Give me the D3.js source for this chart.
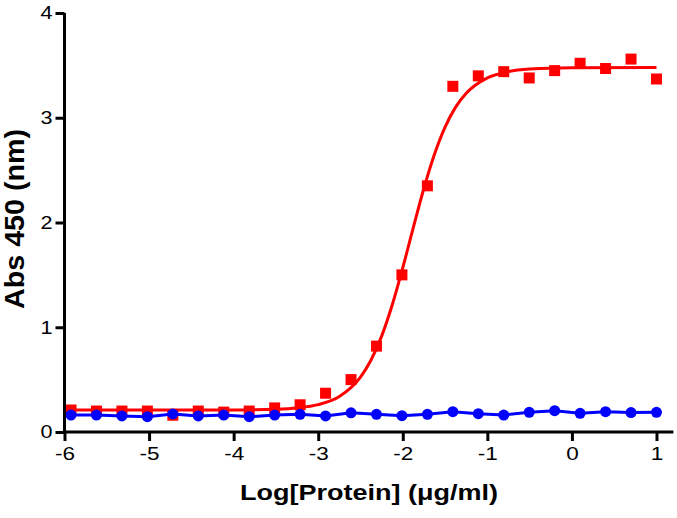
<!DOCTYPE html>
<html>
<head>
<meta charset="utf-8">
<script src="https://cdn.jsdelivr.net/npm/d3@7"></script>
<style>
html,body{margin:0;padding:0;background:#fff;}
svg{display:block;}
</style>
</head>
<body>
<svg id="chart" width="677" height="518"></svg>
<script>
// Data (log concentration, 2-fold dilutions)
const logConc = [-5.923,-5.622,-5.321,-5.020,-4.719,-4.418,-4.117,-3.816,-3.515,-3.214,-2.913,-2.612,-2.311,-2.010,-1.709,-1.408,-1.107,-0.806,-0.505,-0.204,0.097,0.398,0.699,1.000];
const redValues = [0.21,0.20,0.20,0.20,0.16,0.20,0.19,0.20,0.23,0.26,0.37,0.50,0.82,1.50,2.35,3.30,3.40,3.44,3.38,3.45,3.52,3.47,3.56,3.37];
const blueValues = [0.162,0.162,0.153,0.146,0.172,0.153,0.162,0.146,0.162,0.169,0.153,0.183,0.169,0.156,0.169,0.194,0.175,0.162,0.188,0.203,0.178,0.194,0.185,0.188];
// Fitted red curve
const fitX = [-5.97,-4.0,-3.5,-3.25,-3.0,-2.75,-2.5,-2.375,-2.25,-2.125,-2.0,-1.875,-1.75,-1.625,-1.5,-1.375,-1.25,-1.0,-0.75,-0.5,0.0,1.0];
const fitY = [0.21,0.211,0.218,0.230,0.261,0.339,0.524,0.687,0.915,1.212,1.568,1.953,2.327,2.652,2.911,3.101,3.233,3.380,3.441,3.465,3.478,3.48];
const xTicks = [-6,-5,-4,-3,-2,-1,0,1];
const yTicks = [0,1,2,3,4];
const xTitle = "Log[Protein] (\u03bcg/ml)";
const yTitle = "Abs 450 (nm)";

const svg = d3.select("#chart");
const x = d3.scaleLinear().domain([-6, 1.2]).range([64.5, 673.4]);
const y = d3.scaleLinear().domain([0, 4]).range([432, 13]);
const font = "Arial, 'Liberation Sans', Helvetica, sans-serif";
const fmt = d => String(d); // plain hyphen-minus as in the reference

// Red fit curve
const fitData = fitX.map((d,i)=>[d, fitY[i]]);
svg.append("path")
  .datum(fitData)
  .attr("fill","none")
  .attr("stroke","#ff0000")
  .attr("stroke-width",3)
  .attr("d", d3.line().x(d=>x(d[0])).y(d=>y(d[1])).curve(d3.curveMonotoneX));

// Red squares
const sq = 11;
svg.append("g").selectAll("rect")
  .data(logConc.map((d,i)=>[d, redValues[i]]))
  .join("rect")
  .attr("x", d=>x(d[0]) - sq/2)
  .attr("y", d=>y(d[1]) - sq/2)
  .attr("width", sq).attr("height", sq)
  .attr("fill","#ff0000");

// Blue line + dots
const blueData = logConc.map((d,i)=>[d, blueValues[i]]);
svg.append("path")
  .datum(blueData)
  .attr("fill","none")
  .attr("stroke","#0000ff")
  .attr("stroke-width",3)
  .attr("d", d3.line().x(d=>x(d[0])).y(d=>y(d[1])));
svg.append("g").selectAll("circle")
  .data(blueData)
  .join("circle")
  .attr("cx", d=>x(d[0]))
  .attr("cy", d=>y(d[1]))
  .attr("r", 5.5)
  .attr("fill","#0000ff");

// Axes
const xAxis = svg.append("g")
  .attr("transform", `translate(0,${y(0)})`)
  .call(d3.axisBottom(x).tickValues(xTicks).tickFormat(fmt).tickSizeInner(9).tickSizeOuter(0).tickPadding(6));
const yAxis = svg.append("g")
  .attr("transform", `translate(${x(-6)},0)`)
  .call(d3.axisLeft(y).tickValues(yTicks).tickFormat(fmt).tickSizeInner(9).tickSizeOuter(0).tickPadding(3));

[xAxis, yAxis].forEach(g=>{
  g.select(".domain").attr("stroke","#000").attr("stroke-width",3);
  g.selectAll(".tick line").attr("stroke","#000").attr("stroke-width",3);
  g.selectAll(".tick text").attr("fill","#000").style("font-family",font).style("font-size","18px");
});
xAxis.selectAll(".tick text").attr("transform","scale(1.25,1)");
yAxis.selectAll(".tick text").attr("x", -10).attr("transform","scale(1.2,1)");
// Extend domain lines slightly to cover stroke joint
xAxis.select(".domain").attr("d", `M${x(-6)-1.5},0H${x(1.2)}`);
yAxis.select(".domain").attr("d", `M0,${y(4)}V${y(0)+1.5}`);

// Titles
svg.append("text")
  .attr("x", 369).attr("y", 500)
  .attr("text-anchor","middle")
  .attr("textLength", 258).attr("lengthAdjust","spacingAndGlyphs")
  .style("font-family",font).style("font-size","22px").style("font-weight","bold")
  .text(xTitle);
svg.append("text")
  .attr("transform","translate(23.5,219) rotate(-90)")
  .attr("text-anchor","middle")
  .attr("textLength", 180).attr("lengthAdjust","spacingAndGlyphs")
  .style("font-family",font).style("font-size","27px").style("font-weight","bold")
  .text(yTitle);
</script>
</body>
</html>
